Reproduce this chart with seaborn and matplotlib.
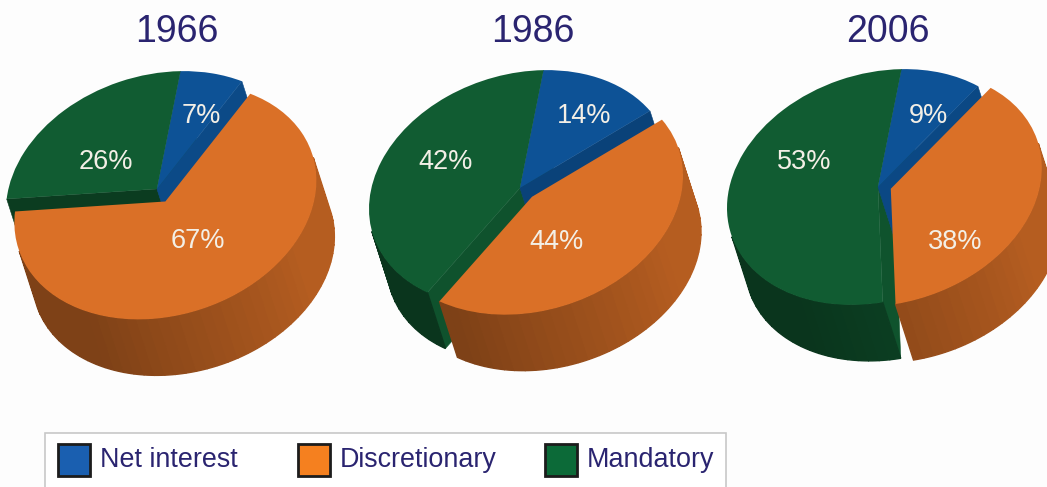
import numpy as np
import matplotlib
matplotlib.use('Agg')
import matplotlib.pyplot as plt
import seaborn as sns
from matplotlib.patches import Polygon, Rectangle
from matplotlib.transforms import Affine2D

# data
years = ['1966', '1986', '2006']
categories = ['Net interest', 'Discretionary', 'Mandatory']
net_interest = [7, 14, 9]
discretionary = [67, 44, 38]
mandatory = [26, 42, 53]

# layout, in pixels of the 1047x487 picture
centers = [(157, 189), (520, 188), (878, 187)]
title_x = [177, 533, 888]
explode_orange = [0.13, 0.12, 0.09]
label_pos = [
    [(201, 116), (198, 241), (106, 162)],
    [(584, 116), (556, 242), (446, 162)],
    [(928, 116), (955, 242), (804, 162)],
]
legend_x = [58, 298, 545]
extrude = np.array([18.0, 56.0])
RX, RY, TILT = 151.0, 116.0, 21.0

sns.set_theme(style='white')
plt.rcParams['font.family'] = ['Liberation Sans', 'DejaVu Sans']

top_colors = sns.color_palette(['#0d5296', '#da7027', '#115c32'])
legend_colors = ['#1a5fb0', '#f5801f', '#0c6a38']
NAVY = '#2a2470'
LABEL = '#f3efe6'
BG = '#fdfdfd'

fig = plt.figure(figsize=(10.47, 4.87), dpi=100, facecolor=BG)
ax = fig.add_axes([0, 0, 1, 1])


def wall_shade(color, phi):
    # darker when the face turns to the lower left
    phi = (phi + 180) % 360 - 180
    f = 0.58 + 0.25 * np.clip((phi + 120) / 90, 0, 1)
    return tuple(c * f for c in color)


def cut_shade(color, phi):
    phi = (phi + 180) % 360 - 180
    f = 0.65 + 0.25 * np.clip((phi + 95) / 58, 0, 1)
    return tuple(c * f for c in color)


def draw_pie(i):
    vals = [net_interest[i], discretionary[i], mandatory[i]]
    cx, cy = centers[i]
    wedges, _ = ax.pie(vals, startangle=81, counterclock=False, colors=top_colors,
                       explode=[0, explode_orange[i], 0], wedgeprops={'linewidth': 0})
    m = np.array([[RX, 0.0], [-TILT, -RY]])
    inv_t = np.linalg.inv(m).T
    affine = Affine2D.from_values(RX, -TILT, 0, -RY, cx, cy)

    def project(p):
        return m @ np.asarray(p) + np.array([cx, cy])

    def faces_viewer(phi):
        a = np.radians(phi)
        return (inv_t @ np.array([np.cos(a), np.sin(a)])) @ extrude > 0

    z = 1
    # back pieces first, orange goes on top since it is pulled out
    for k in [2, 0, 1]:
        w = wedges[k]
        col = top_colors[k]
        ctr = np.array(w.center)
        # cut faces
        for th, phi in [(w.theta1, w.theta1 - 90), (w.theta2, w.theta2 + 90)]:
            if faces_viewer(phi):
                a = np.radians(th)
                p0 = project(ctr)
                p1 = project(ctr + [np.cos(a), np.sin(a)])
                c = cut_shade(col, phi)
                ax.add_patch(Polygon([p0, p1, p1 + extrude, p0 + extrude], closed=True,
                                     facecolor=c, edgecolor=c, lw=0.4, zorder=z))
        # outer wall, cut in narrow strips
        n = max(int((w.theta2 - w.theta1) / 4), 1)
        edges = np.linspace(w.theta1, w.theta2, n + 1)
        for t0, t1 in zip(edges[:-1], edges[1:]):
            mid = (t0 + t1) / 2
            if not faces_viewer(mid):
                continue
            ts = np.radians(np.linspace(t0, t1, 4))
            rim = np.array([project(ctr + [np.cos(t), np.sin(t)]) for t in ts])
            c = wall_shade(col, mid)
            ax.add_patch(Polygon(np.vstack([rim, (rim + extrude)[::-1]]), closed=True,
                                 facecolor=c, edgecolor=c, lw=1.0, zorder=z))
        w.set_transform(affine + ax.transData)
        w.set_zorder(z + 1)
        z += 2

    for k, v in enumerate(vals):
        x, y = label_pos[i][k]
        ax.text(x, y, f'{v}%', color=LABEL, fontsize=19.5, ha='center', va='center', zorder=20)
    ax.text(title_x[i], 32, years[i], color=NAVY, fontsize=27, ha='center', va='center', zorder=20)


for i in range(len(years)):
    draw_pie(i)

ax.set_aspect('auto')
ax.set_xlim(0, 1047)
ax.set_ylim(487, 0)
ax.axis('off')

# legend box runs off the bottom of the picture
ax.add_patch(Rectangle((45, 433), 681, 70, facecolor='white', edgecolor='#c8c8c8', lw=1.2, zorder=30))
for x, c, lab in zip(legend_x, legend_colors, categories):
    ax.add_patch(Rectangle((x, 444), 32, 32, facecolor=c, edgecolor='#1c1c1c', lw=2, zorder=31))
    ax.text(x + 42, 460, lab, color=NAVY, fontsize=19.4, ha='left', va='center', zorder=31)

fig.savefig('out.png', dpi=100, facecolor=BG)
